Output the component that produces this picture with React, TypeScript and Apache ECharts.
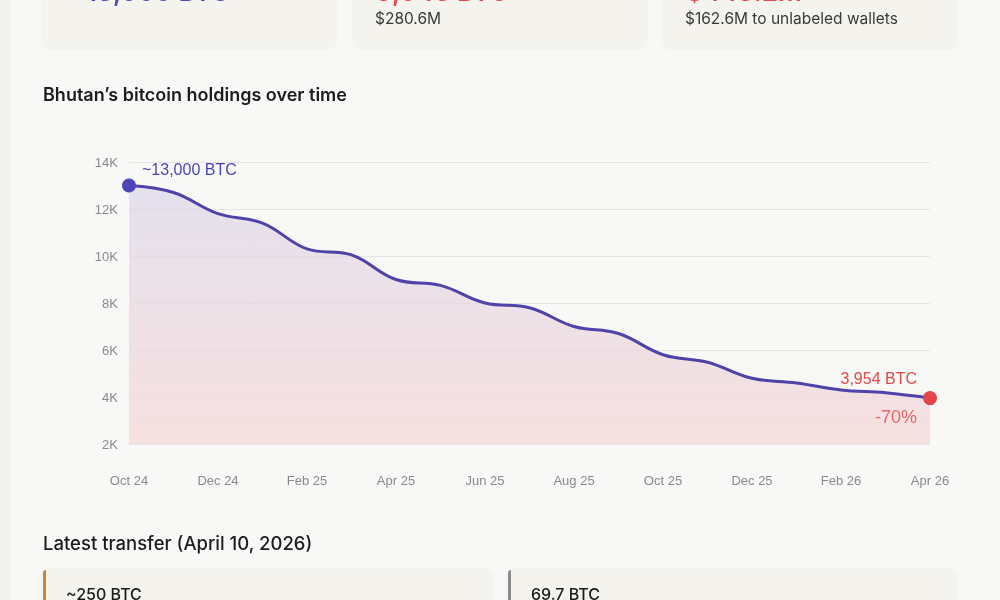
import React, { useEffect, useRef } from "react";
import * as echarts from "echarts";

const months = [
  "Oct 24", "Nov 24", "Dec 24", "Jan 25", "Feb 25", "Mar 25", "Apr 25", "May 25", "Jun 25", "Jul 25",
  "Aug 25", "Sep 25", "Oct 25", "Nov 25", "Dec 25", "Jan 26", "Feb 26", "Mar 26", "Apr 26",
];
const holdings = [
  13000, 12700, 11800, 11400, 10300, 10050, 9000, 8750, 8000, 7800,
  7000, 6700, 5800, 5480, 4800, 4600, 4300, 4180, 3954,
];
const startLabel = "~13,000 BTC";
const endLabel = "3,954 BTC";
const changeLabel = "-70%";
const yTicks = { min: 2000, max: 14000, interval: 2000 };

const topCards = [
  { big: "13,000 BTC", sub: "", bigColor: "#5147b3" },
  { big: "9,046 BTC", sub: "$280.6M", bigColor: "#e0484a" },
  { big: "$443.2M", sub: "$162.6M to unlabeled wallets", bigColor: "#e0484a" },
];
const bottomCards = [
  { text: "~250 BTC", accent: "#c98638" },
  { text: "69.7 BTC", accent: "#8a8a8a" },
];

export default function App() {
  const ref = useRef<HTMLDivElement>(null);
  useEffect(() => {
    if (!ref.current) return;
    const chart = echarts.init(ref.current, null, { renderer: "svg" });
    const cardX = [43, 354, 664];
    const graphics: any[] = [
      { type: "rect", shape: { x: 0, y: 0, width: 1000, height: 600 }, style: { fill: "#f1f1ef" }, z: -10 },
      { type: "rect", shape: { x: 11, y: 0, width: 989, height: 600 }, style: { fill: "#f8f8f6" }, z: -9 },
    ];
    topCards.forEach((c, i) => {
      graphics.push({
        type: "rect",
        shape: { x: cardX[i], y: -20, width: 292, height: 67, r: 8 },
        style: { fill: "#f5f3ed", shadowBlur: 4, shadowColor: "rgba(0,0,0,0.06)", shadowOffsetY: 1 },
        z: -5,
      });
      graphics.push({
        type: "text",
        x: cardX[i] + (i === 0 ? 43 : 22),
        y: 4,
        style: { text: c.big, fill: c.bigColor, font: "600 26px Inter", textVerticalAlign: "bottom" },
      });
      if (c.sub) {
        graphics.push({
          type: "text",
          x: cardX[i] + 21,
          y: 18,
          style: { text: c.sub, fill: "#3a3a3a", font: "15.5px Inter", textVerticalAlign: "middle" },
        });
      }
    });
    graphics.push({
      type: "text", x: 43, y: 94,
      style: { text: "Bhutan’s bitcoin holdings over time", fill: "#1c1c1c", font: "600 18px Inter", textVerticalAlign: "middle" },
    });
    graphics.push({
      type: "text", x: 43, y: 543,
      style: { text: "Latest transfer (April 10, 2026)", fill: "#1c1c1c", font: "500 18.5px Inter", textVerticalAlign: "middle" },
    });
    const bx = [43, 508];
    bottomCards.forEach((c, i) => {
      graphics.push({
        type: "rect",
        shape: { x: bx[i], y: 570, width: 448, height: 60, r: 8 },
        style: { fill: "#f5f3ed", shadowBlur: 4, shadowColor: "rgba(0,0,0,0.06)" },
        z: -5,
      });
      graphics.push({
        type: "rect",
        shape: { x: bx[i], y: 570, width: 3, height: 40, r: [8, 0, 0, 0] },
        style: { fill: c.accent },
        z: -4,
      });
      graphics.push({
        type: "text", x: bx[i] + 23, y: 594,
        style: { text: c.text, fill: "#1c1c1c", font: "500 16px Inter", textVerticalAlign: "middle" },
      });
    });

    const last = holdings.length - 1;
    chart.setOption({
      animation: false,
      backgroundColor: "transparent",
      graphic: graphics,
      grid: { left: 129, right: 70, top: 162, bottom: 156 },
      xAxis: {
        type: "category",
        data: months,
        boundaryGap: false,
        axisLine: { show: false },
        axisTick: { show: false },
        axisLabel: {
          interval: 1,
          color: "#8a8a8a",
          fontSize: 13,
          fontFamily: "Liberation Sans",
          margin: 30,
        },
      },
      yAxis: {
        type: "value",
        min: yTicks.min,
        max: yTicks.max,
        interval: yTicks.interval,
        axisLabel: {
          formatter: (v: number) => `${v / 1000}K`,
          color: "#8a8a8a",
          fontSize: 13,
          fontFamily: "Liberation Sans",
          margin: 11,
        },
        splitLine: { lineStyle: { color: "#e7e6e3", width: 1 } },
        axisLine: { show: false },
        axisTick: { show: false },
      },
      series: [
        {
          type: "line",
          data: holdings,
          smooth: 0.4,
          symbol: "none",
          lineStyle: { color: "#4f43a9", width: 3 },
          areaStyle: {
            origin: "start",
            color: new echarts.graphic.LinearGradient(0, 0, 0, 1, [
              { offset: 0, color: "#dcd7ea" },
              { offset: 1, color: "#f6d6d6" },
            ]),
          },
          z: 2,
        },
        {
          type: "scatter",
          symbolSize: 14,
          z: 5,
          itemStyle: { opacity: 1 },
          data: [
            { value: [0, holdings[0]], itemStyle: { color: "#4f45b8", opacity: 1 }, label: { formatter: startLabel, color: "#4f45b0", offset: [13, -16], align: "left" } },
            { value: [last, holdings[last]], itemStyle: { color: "#e24646", opacity: 1 }, label: { formatter: endLabel, color: "#e04a4a", offset: [-13, -20], align: "right" } },
          ],
          label: {
            show: true,
            position: "inside",
            verticalAlign: "middle",
            fontSize: 16,
            fontFamily: "Liberation Sans",
          },
        },
        {
          type: "scatter",
          symbolSize: 0,
          z: 5,
          data: [
            { value: [last, holdings[last]], label: { formatter: changeLabel } },
          ],
          label: {
            show: true,
            position: "inside",
            align: "right",
            verticalAlign: "middle",
            offset: [-13, 19],
            color: "#e04a4a",
            fontSize: 18,
            fontFamily: "Liberation Sans",
          },
        },
      ],
    });
    return () => chart.dispose();
  }, []);
  return (
    <div
      ref={ref}
      style={{ position: "fixed", left: 0, top: 0, width: 1000, height: 600 }}
    />
  );
}
